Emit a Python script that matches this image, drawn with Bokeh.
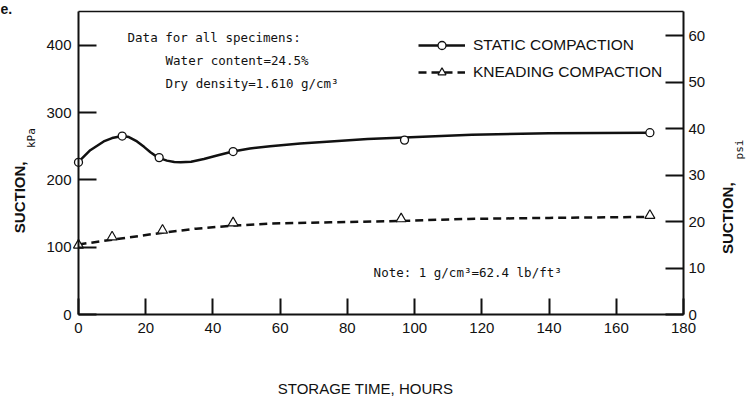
from math import pi
from bokeh.plotting import figure
from bokeh.models import Range1d, LinearAxis, FixedTicker, Label, Legend, LegendItem
from bokeh.embed import file_html
from bokeh.resources import INLINE

# ---------------- data ----------------
time_static = [0, 13, 24, 46, 97, 170]
suction_static = [226, 265, 233, 242, 259, 270]
# hand-drawn smooth curve through the static points
static_curve_time = [0, 3.5, 7.5, 10, 13, 15, 17.4, 19.5, 21.4, 23.7, 26.3, 28.5,
                     30.4, 33.5, 37.3, 41.5, 45.9, 51, 57, 66, 75, 86, 97, 117, 140, 170]
static_curve_kpa = [226.6, 244, 257, 262, 265, 263.5, 257, 249, 241, 233, 228.5, 226.5,
                    226, 227, 231, 236.5, 242, 246.5, 250, 254, 257, 260.5, 263, 267, 269, 270]

time_knead = [0, 10, 25, 46, 96, 170]
suction_knead = [103, 115, 125, 136, 142, 147]
knead_curve_time = [0, 10, 25, 35, 46, 57, 75, 96, 116, 140, 170]
knead_curve_kpa = [104, 111, 121.5, 127.5, 132, 135, 137, 139, 142, 143.5, 145]

x_ticks = [0, 20, 40, 60, 80, 100, 120, 140, 160, 180]
kpa_ticks = [0, 100, 200, 300, 400]
psi_ticks = [0, 10, 20, 30, 40, 50, 60]
KPA_PER_PSI = 6.895
X_MAX = 180
Y_MAX_KPA = 450

# ---------------- layout (pixels) ----------------
W, H = 753, 399
AX_LEFT_PX, AX_RIGHT_PX = 78, 683
AX_BOTTOM_PX, AX_TOP_PX = 314, 11
px_per_hr = (AX_RIGHT_PX - AX_LEFT_PX) / X_MAX
px_per_kpa = (AX_BOTTOM_PX - AX_TOP_PX) / Y_MAX_KPA
x_lo = -AX_LEFT_PX / px_per_hr
x_hi = (W - AX_LEFT_PX) / px_per_hr
y_lo = -(H - AX_BOTTOM_PX) / px_per_kpa
y_hi = AX_BOTTOM_PX / px_per_kpa

INK = "#111111"
SANS = "Liberation Sans"
MONO = "DejaVu Sans Mono"

p = figure(frame_width=W, frame_height=H,
           x_range=Range1d(x_lo, x_hi), y_range=Range1d(y_lo, y_hi),
           x_axis_type=None, y_axis_type=None,
           output_backend="svg", toolbar_location=None, min_border=0)
p.xgrid.visible = False
p.ygrid.visible = False
p.outline_line_color = None

def style_axis(ax, tick_in, standoff, width=2):
    ax.axis_line_color = INK
    ax.axis_line_width = width
    ax.major_tick_line_color = INK
    ax.major_tick_line_width = 2
    ax.major_tick_in = tick_in
    ax.major_tick_out = 0
    ax.minor_tick_line_color = None
    ax.major_label_text_font = SANS
    ax.major_label_text_font_size = "15px"
    ax.major_label_text_color = INK
    ax.major_label_standoff = standoff

x_axis = LinearAxis(ticker=FixedTicker(ticks=x_ticks), fixed_location=0, bounds=(0, X_MAX))
style_axis(x_axis, 16, 8)
p.add_layout(x_axis, "below")

y_axis = LinearAxis(ticker=FixedTicker(ticks=kpa_ticks), fixed_location=0, bounds=(0, Y_MAX_KPA))
style_axis(y_axis, 18, 7)
p.add_layout(y_axis, "left")

p.extra_y_ranges = {"psi": Range1d(y_lo / KPA_PER_PSI, y_hi / KPA_PER_PSI)}
right_axis = LinearAxis(y_range_name="psi", ticker=FixedTicker(ticks=psi_ticks),
                        fixed_location=X_MAX, bounds=(0, Y_MAX_KPA / KPA_PER_PSI))
style_axis(right_axis, 18, 5)
p.add_layout(right_axis, "right")

top_axis = LinearAxis(ticker=FixedTicker(ticks=[]), fixed_location=Y_MAX_KPA, bounds=(0, X_MAX))
style_axis(top_axis, 0, 0, width=1.5)
p.add_layout(top_axis, "above")

# data series
static_line = p.line(static_curve_time, static_curve_kpa, line_color=INK, line_width=2.5)
static_pts = p.scatter(time_static, suction_static, marker="circle", size=8,
                       line_color=INK, line_width=1.3, fill_color="white")
knead_line = p.line(knead_curve_time, knead_curve_kpa, line_color=INK, line_width=2.5,
                    line_dash="8 5")
knead_pts = p.scatter(time_knead, suction_knead, marker="triangle", size=10,
                      line_color=INK, line_width=1.2, fill_color="white")

legend = Legend(items=[
    LegendItem(label="STATIC COMPACTION", renderers=[static_line, static_pts]),
    LegendItem(label="KNEADING COMPACTION", renderers=[knead_line, knead_pts]),
], location=(418, H - 82), glyph_width=47, glyph_height=20, label_height=20,
    spacing=7, padding=0, margin=0, label_standoff=8,
    border_line_color=None, background_fill_alpha=0,
    label_text_font=SANS, label_text_font_size="15.5px", label_text_color=INK)
p.add_layout(legend)

def note(x, y, text):
    p.add_layout(Label(x=x, y=y, text=text, text_font=MONO, text_font_size="12.5px",
                       text_align="left", text_baseline="middle", text_color=INK))

note(14.6, 411, "Data for all specimens:")
note(25.9, 377, "Water content=24.5%")
note(25.9, 343, "Dry density=1.610 g/cm³")
note(87.8, 62, "Note: 1 g/cm³=62.4 lb/ft³")

def title(x, y, text, font, size, style="normal", angle=pi / 2, align="center"):
    p.add_layout(Label(x=x, y=y, text=text, text_font=font, text_font_size=size,
                       text_font_style=style, angle=angle, text_align=align,
                       text_baseline="middle", text_color=INK))

title(-17.6, 174, "SUCTION,", SANS, "15px", "bold")
title(-14.0, 262, "kPa", MONO, "11px")
title(193.0, 143, "SUCTION,", SANS, "15px", "bold")
title(196.6, 245, "psi", MONO, "11px")
title(85.4, -110, "STORAGE TIME, HOURS", SANS, "15px", angle=0)
title(-23.2, 454, "e.", SANS, "14px", "bold", angle=0, align="left")

open("out.html", "w").write(file_html(p, INLINE))
